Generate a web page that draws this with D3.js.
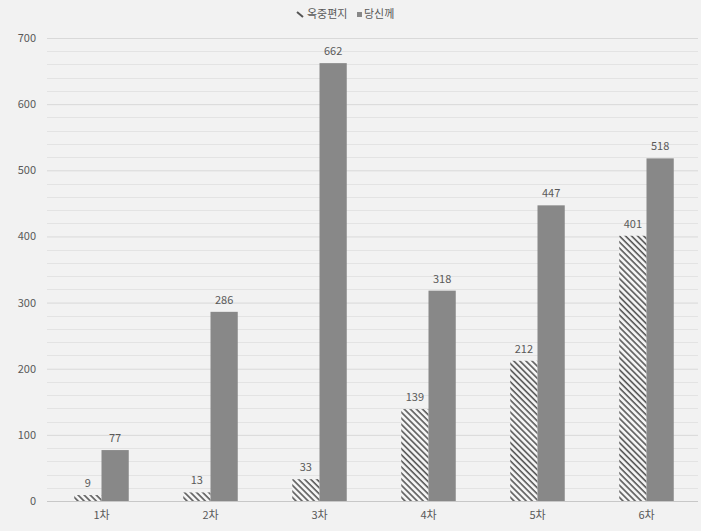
<!DOCTYPE html>
<html><head><meta charset="utf-8">
<script src="https://cdn.jsdelivr.net/npm/d3@7"></script>
<style>
html,body{margin:0;padding:0;background:#f2f2f2;}
svg{display:block;}
text{font-family:"Malgun Gothic","Noto Sans CJK KR","Noto Sans",sans-serif;fill:#595959;}
</style></head>
<body>
<svg id="chart" width="701" height="531"></svg>
<script>
const categories = ["1차","2차","3차","4차","5차","6차"];
const seriesNames = ["옥중편지","당신께"];
const letters = [9,13,33,139,212,401];
const toYou = [77,286,662,318,447,518];
const yTicks = [0,100,200,300,400,500,600,700];

const svg = d3.select("#chart");
const W = 701, H = 531;
const m = {left:47, right:0, top:38, bottom:30};
svg.append("rect").attr("width",W).attr("height",H).attr("fill","#f2f2f2");

const defs = svg.append("defs");
const pat = defs.append("pattern").attr("id","hatch").attr("patternUnits","userSpaceOnUse")
  .attr("width",4.3).attr("height",4.3).attr("patternTransform","rotate(-45)");
pat.append("rect").attr("width",4.3).attr("height",4.3).attr("fill","#f7f7f7");
pat.append("line").attr("x1",1).attr("y1",0).attr("x2",1).attr("y2",4.3)
  .attr("stroke","#555555").attr("stroke-width",1.6);

const x = d3.scaleBand().domain(categories).range([m.left, 701]).paddingInner(0).paddingOuter(0);
const y = d3.scaleLinear().domain([0,700]).range([501, 38]);
const groupW = x.bandwidth()*0.5;
const xs = d3.scaleBand().domain(seriesNames).range([0, groupW]);

// minor gridlines
const minor = d3.range(20,701,20).filter(v => v%100!==0);
svg.append("g").selectAll("line").data(minor).join("line")
  .attr("x1",m.left).attr("x2",698).attr("y1",d=>Math.round(y(d))+0.5).attr("y2",d=>Math.round(y(d))+0.5)
  .attr("stroke","#e3e3e3").attr("stroke-width",1);

// major gridlines via axis
const yAxis = d3.axisLeft(y).tickValues(yTicks).tickSize(-(698-m.left)).tickPadding(11);
const gy = svg.append("g").attr("transform",`translate(${m.left},0)`).call(yAxis);
gy.select(".domain").remove();
gy.selectAll(".tick line").attr("stroke",d=>d===0?"#c8c8c8":"#d9d9d9");
gy.selectAll(".tick text").style("font-size","11px").attr("fill","#595959");

// x axis
const xAxis = d3.axisBottom(x).tickSize(0).tickPadding(10);
const gx = svg.append("g").attr("transform",`translate(0,501)`).call(xAxis);
gx.select(".domain").remove();
gx.selectAll(".tick text").style("font-size","11px").attr("fill","#595959");

const data = categories.map((c,i)=>({c, vals:[{s:seriesNames[0],v:letters[i]},{s:seriesNames[1],v:toYou[i]}]}));
const groups = svg.append("g").selectAll("g").data(data).join("g")
  .attr("transform",d=>`translate(${x(d.c)+x.bandwidth()/2-groupW/2},0)`);
groups.selectAll("rect").data(d=>d.vals).join("rect")
  .attr("x",d=>xs(d.s)).attr("width",xs.bandwidth())
  .attr("y",d=>y(d.v)).attr("height",d=>501-y(d.v))
  .attr("fill",d=>d.s===seriesNames[0]?"url(#hatch)":"#888888");
groups.selectAll("text.lbl").data(d=>d.vals).join("text").attr("class","lbl")
  .attr("x",d=>xs(d.s)+xs.bandwidth()/2).attr("y",d=>y(d.v)-8)
  .attr("text-anchor","middle").style("font-size","11px").text(d=>d.v);

// legend
const lg = svg.append("g");
lg.append("line").attr("x1",297).attr("y1",12).attr("x2",303).attr("y2",17)
  .attr("stroke","#555555").attr("stroke-width",2);
lg.append("text").attr("x",307).attr("y",18).style("font-size","11px").text(seriesNames[0]);
lg.append("rect").attr("x",357).attr("y",12).attr("width",5).attr("height",5).attr("fill","#888888");
lg.append("text").attr("x",364).attr("y",18).style("font-size","11px").text(seriesNames[1]);
</script>
</body></html>
